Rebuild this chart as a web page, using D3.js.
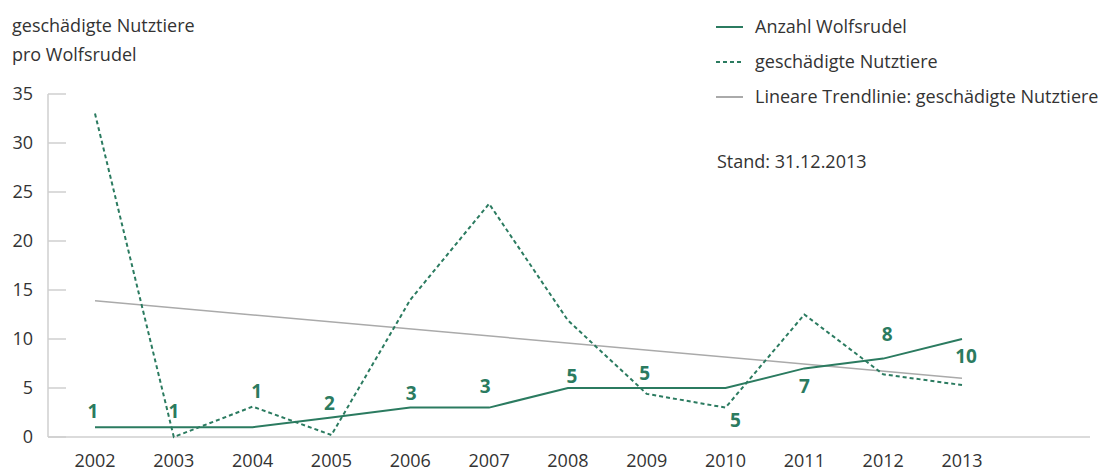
<!DOCTYPE html>
<html>
<head>
<meta charset="utf-8">
<script src="https://cdn.jsdelivr.net/npm/d3@7"></script>
<style>
  body { margin: 0; background: #fff; }
  text { font-family: "Open Sans", "Liberation Sans", sans-serif; fill: #333; }
</style>
</head>
<body>
<div id="chart"></div>
<script>
var years = [2002, 2003, 2004, 2005, 2006, 2007, 2008, 2009, 2010, 2011, 2012, 2013];
// Anzahl Wolfsrudel
var packs = [1, 1, 1, 2, 3, 3, 5, 5, 5, 7, 8, 10];
// geschädigte Nutztiere pro Wolfsrudel
var damaged = [33, 0, 3.1, 0.2, 14, 23.8, 11.9, 4.4, 3.0, 12.5, 6.4, 5.3];
// lineare Trendlinie (Endpunkte 2002 / 2013)
var trendYears = [2002, 2013];
var trendValues = [13.9, 6.0];
var yTicks = [0, 5, 10, 15, 20, 25, 30, 35];

var svgWidth = 1106;
var svgHeight = 474;
var green = "#2b7b60";

// label placement relative to the point (layout only)
var labelDx = [-2, 0, 4, -2, 1, -4, 4, -2, 10, 0, 4, 4];
var labelDy = [-9, -9, -29, -7, -8, -15, -5, -8, 39, 25, -18, 24];

var svg = d3.select("#chart")
	.append("svg")
	.attr("width", svgWidth)
	.attr("height", svgHeight);

var x = d3.scaleLinear()
	.domain([2002, 2013])
	.range([95, 962]);

var y = d3.scaleLinear()
	.domain([0, 35])
	.range([437, 94]);

// y axis line + ticks
svg.append("line")
	.attr("x1", 48).attr("x2", 48)
	.attr("y1", y(35)).attr("y2", y(0))
	.attr("stroke", "#cfcfcf").attr("stroke-width", 1.5);

svg.selectAll(".ytick")
	.data(yTicks)
	.enter()
	.append("line")
	.attr("x1", 48).attr("x2", 66)
	.attr("y1", d => y(d)).attr("y2", d => y(d))
	.attr("stroke", "#cfcfcf").attr("stroke-width", 1.5);

svg.selectAll(".ylabel")
	.data(yTicks)
	.enter()
	.append("text")
	.attr("x", 33)
	.attr("y", d => y(d) + 6)
	.attr("text-anchor", "end")
	.attr("font-size", 18)
	.text(d => d);

// x baseline
svg.append("line")
	.attr("x1", 48).attr("x2", 1090)
	.attr("y1", y(0)).attr("y2", y(0))
	.attr("stroke", "#cfcfcf").attr("stroke-width", 1.5);

svg.selectAll(".xlabel")
	.data(years)
	.enter()
	.append("text")
	.attr("x", d => x(d))
	.attr("y", 467)
	.attr("text-anchor", "middle")
	.attr("font-size", 18)
	.text(d => d);

// trend line
svg.append("path")
	.datum(trendYears.map((d, i) => [d, trendValues[i]]))
	.attr("fill", "none")
	.attr("stroke", "#aaaaaa")
	.attr("stroke-width", 1.5)
	.attr("d", d3.line().x(d => x(d[0])).y(d => y(d[1])));

// dashed: geschädigte Nutztiere
svg.append("path")
	.datum(damaged)
	.attr("fill", "none")
	.attr("stroke", green)
	.attr("stroke-width", 2)
	.attr("stroke-dasharray", "4,3")
	.attr("d", d3.line().x((d, i) => x(years[i])).y(d => y(d)));

// solid: Anzahl Wolfsrudel
svg.append("path")
	.datum(packs)
	.attr("fill", "none")
	.attr("stroke", green)
	.attr("stroke-width", 2)
	.attr("d", d3.line().x((d, i) => x(years[i])).y(d => y(d)));

svg.selectAll(".plabel")
	.data(packs)
	.enter()
	.append("text")
	.attr("x", (d, i) => x(years[i]) + labelDx[i])
	.attr("y", (d, i) => y(d) + labelDy[i])
	.attr("text-anchor", "middle")
	.attr("font-size", 19)
	.attr("font-weight", "bold")
	.style("fill", green)
	.text(d => d);

// y title
svg.append("text").attr("x", 12).attr("y", 32).attr("font-size", 18).text("geschädigte Nutztiere");
svg.append("text").attr("x", 12).attr("y", 61).attr("font-size", 18).text("pro Wolfsrudel");

// legend
var legend = [
	{ label: "Anzahl Wolfsrudel", dash: null, color: green },
	{ label: "geschädigte Nutztiere", dash: "4,3", color: green },
	{ label: "Lineare Trendlinie: geschädigte Nutztiere", dash: null, color: "#aaaaaa" }
];
var lg = svg.selectAll(".legend")
	.data(legend)
	.enter()
	.append("g")
	.attr("transform", (d, i) => `translate(716, ${27 + i * 35})`);
lg.append("line")
	.attr("x1", 0).attr("x2", 27)
	.attr("stroke", d => d.color)
	.attr("stroke-width", 2)
	.attr("stroke-dasharray", d => d.dash);
lg.append("text")
	.attr("x", 39)
	.attr("y", 6)
	.attr("font-size", 18)
	.text(d => d.label);

svg.append("text").attr("x", 717).attr("y", 168).attr("font-size", 18).text("Stand: 31.12.2013");
</script>
</body>
</html>
